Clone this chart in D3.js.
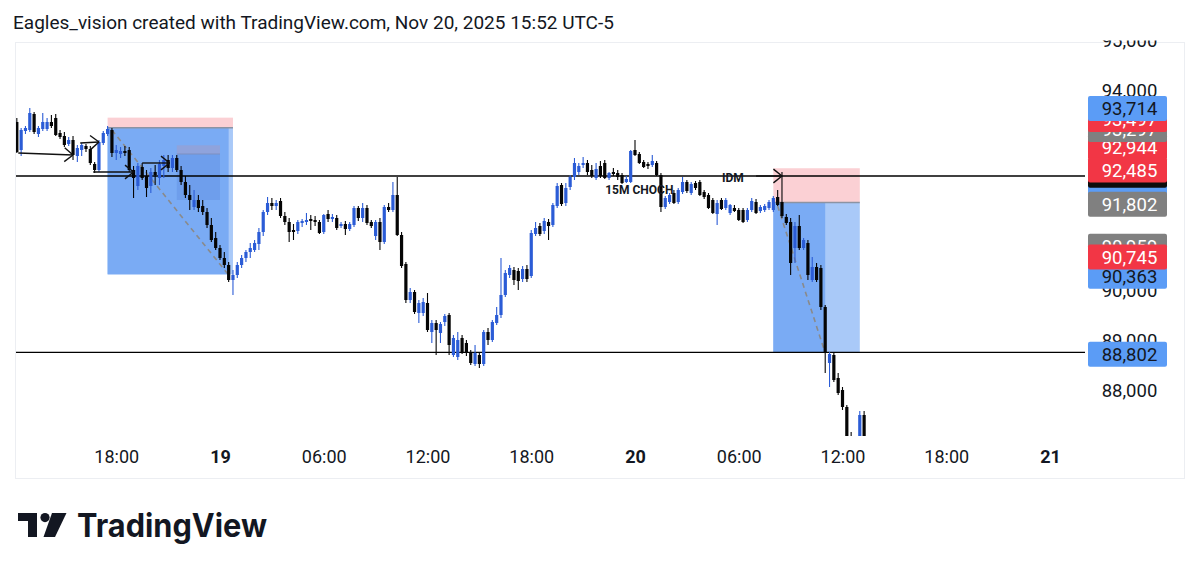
<!DOCTYPE html>
<html><head><meta charset="utf-8">
<script src="https://cdn.jsdelivr.net/npm/d3@7/dist/d3.min.js"></script>
<style>
html,body{margin:0;padding:0;background:#fff;}
svg{display:block;font-family:Roboto,"Noto Sans",sans-serif;}
</style></head><body>
<svg id="chart" width="1200" height="573"></svg>
<script>
// ---------- DATA (BTC 15m candles) ----------
const firstCandle = "2025-11-18T12:15:00Z";
const candleMinutes = 15;
const opens = [
93410,92850,93230,93250,93570,93170,93270,93270,93410,93490,
93190,93130,92970,93050,92730,92850,92930,92870,92570,92450,
92990,93170,93250,92790,92770,92830,92850,92450,92130,92510,
92330,92130,92410,92290,92530,92650,92490,92690,92450,92210,
91950,91710,91850,91730,91610,91350,91090,90890,90690,90550,
90250,90350,90550,90690,90810,90850,90970,91210,91610,91790,
91730,91830,91530,91410,91250,91230,91390,91410,91470,91450,
91410,91210,91570,91470,91490,91330,91370,91270,91350,91690,
91490,91690,91410,91130,91410,91010,91710,91650,91950,91150,
90570,89850,90010,89590,89590,89790,89210,89390,89190,89410,
89550,88750,88710,89090,88990,88810,88570,88750,88570,89210,
89050,89390,89550,89950,90350,90450,90430,90270,90470,90330,
91170,91330,91230,91410,91350,91730,92150,91790,92110,92310,
92410,92550,92590,92450,92290,92530,92590,92290,92410,92390,
92350,92210,92210,92850,92770,92610,92570,92550,92590,92350,
91710,91810,91990,91810,92010,92210,91990,92190,92210,92010,
91950,91850,91570,91850,91690,91590,91690,91650,91650,91450,
91650,91810,91630,91650,91690,91650,91910,91810,91510,91410,
90890,91330,90890,90990,90250,90510,90490,89710,88590,88750,
88290,88050,87710,87050,86850,86750,87550];
const highs = [
93490,93290,93330,93690,93610,93330,93590,93490,93550,93570,
93250,93210,93110,93130,92950,92990,92970,92930,92610,93050,
93230,93330,93290,92950,92910,92930,92910,92530,92590,92590,
92450,92490,92550,92650,92750,92750,92750,92750,92530,92330,
92150,92050,91950,91850,91690,91490,91210,90950,90810,90610,
90450,90610,90750,90850,90990,91050,91290,91650,91910,91890,
91850,91890,91610,91490,91370,91450,91470,91590,91550,91530,
91450,91570,91650,91570,91550,91410,91430,91410,91730,91730,
91790,91750,91450,91450,91490,91750,91790,92210,92310,91210,
90610,90090,90050,89850,89890,89990,89450,89450,89410,89570,
89590,89150,89210,89150,89050,88850,88950,88810,89250,89290,
89450,89710,90690,90450,90550,90510,90490,90530,90550,91250,
91410,91390,91490,91470,91790,92190,92190,92190,92350,92690,
92590,92710,92650,92550,92590,92630,92650,92410,92490,92450,
92390,92330,92850,93050,92810,92650,92610,92750,92630,92390,
91930,91990,92050,92090,92310,92250,92210,92230,92250,92050,
91990,91890,91850,91890,91890,91770,91750,91690,91690,91690,
91890,91870,91750,91770,91850,91930,92050,92410,91570,91490,
91410,91550,91090,91050,90710,90590,90550,89750,88810,88790,
88390,88110,87750,87210,87090,87630,87630];
const lows = [
92790,92730,93170,93210,93170,93110,93230,93230,93290,93130,
93070,92910,92930,92650,92610,92730,92810,92550,92390,92410,
92950,93130,92710,92650,92690,92730,92410,91890,92050,92250,
91910,91990,92150,92150,92290,92410,92410,92410,92150,91890,
91650,91650,91610,91550,91290,91010,90850,90650,90490,90210,
89950,90290,90490,90610,90690,90810,90850,91130,91550,91650,
91650,91490,91350,91010,91050,91170,91310,91350,91250,91330,
91170,91170,91410,91410,91250,91290,91150,91230,91310,91430,
91410,91350,91290,91050,90850,90970,91610,91610,91130,90490,
89790,89790,89570,89390,89530,89210,88990,88750,88990,89330,
88750,88710,88650,88770,88730,88550,88530,88490,88530,88950,
89010,89350,89490,89910,90290,90150,90050,90210,90210,90290,
91130,91130,91170,91050,91310,91690,91730,91730,92050,92250,
92350,92490,92350,92290,92250,92290,92270,92250,92330,92250,
92170,92190,92190,92730,92570,92490,92470,92510,92330,91610,
91670,91770,91770,91770,91970,91990,91950,92050,91930,91870,
91670,91570,91350,91650,91650,91550,91610,91430,91390,91410,
91610,91570,91590,91610,91650,91610,91730,91490,91350,90350,
90590,90850,90850,90250,90210,90210,89650,88390,88110,88210,
87950,87650,86950,86750,86650,86650,86850];
const closes = [
92810,93250,93290,93590,93210,93290,93410,93410,93330,93150,
93110,92950,93050,92750,92890,92950,92870,92590,92450,93010,
93190,93270,92790,92850,92830,92790,92450,92290,92530,92290,
92090,92410,92350,92570,92650,92490,92690,92450,92210,91950,
91850,91850,91690,91610,91350,91050,90890,90690,90550,90250,
90350,90550,90690,90810,90890,90990,91210,91610,91790,91730,
91790,91530,91410,91210,91210,91410,91430,91450,91430,91410,
91190,91550,91470,91510,91290,91370,91270,91370,91690,91490,
91690,91390,91330,91410,91010,91710,91650,91950,91150,90530,
89850,90010,89610,89790,89810,89250,89390,89250,89370,89530,
88950,89090,89050,88810,88790,88590,88790,88570,89210,89050,
89410,89550,89950,90390,90490,90250,90230,90470,90270,91190,
91290,91170,91430,91330,91750,92130,91770,92090,92310,92590,
92530,92590,92410,92330,92470,92330,92290,92390,92370,92310,
92190,92270,92830,92750,92590,92510,92530,92630,92350,91710,
91890,91950,91790,92050,92210,92030,92170,92090,91950,91910,
91690,91590,91790,91670,91850,91750,91630,91450,91410,91650,
91830,91590,91710,91730,91810,91890,91750,91530,91390,90590,
91330,90890,91050,90350,90510,90250,89710,88790,88770,88250,
87990,87710,87050,86850,86750,87550,87050];

const xTickTimes = ["2025-11-18T18:00:00Z","2025-11-19T00:00:00Z","2025-11-19T06:00:00Z","2025-11-19T12:00:00Z","2025-11-19T18:00:00Z","2025-11-20T00:00:00Z","2025-11-20T06:00:00Z","2025-11-20T12:00:00Z","2025-11-20T18:00:00Z","2025-11-21T00:00:00Z"];
const xTickLabels = ["18:00","19","06:00","12:00","18:00","20","06:00","12:00","18:00","21"];
const xTickBold = [false,true,false,false,false,true,false,false,false,true];
const yTicks = [95000,94000,93000,92000,91000,90000,89000,88000];
const horizontalLines = [92330, 88802];
// price tags in drawing order (bottom first); strips whose text is hidden have showText=false
const tagValues = [92944, 92200, 92380, 93297, 93497, 93714, 92485, 91802, 90959, 90363, 90745, 88802];
const tagKinds  = ["red","blue","black","gray","red","blue","red","gray","gray","blue","red","blue"];
const tagShowText = [true,false,false,true,true,true,true,true,true,true,true,true];
const positionStart  = ["2025-11-18T17:30:00Z","2025-11-20T08:00:00Z"];
const positionSplit  = ["2025-11-19T00:30:00Z","2025-11-20T11:00:00Z"];
const positionEnd    = ["2025-11-19T00:45:00Z","2025-11-20T13:00:00Z"];
const positionStop   = [93497, 92485];
const positionEntry  = [93297, 91802];
const positionTarget = [90363, 88802];
const innerBox = {start:"2025-11-18T21:30:00Z", end:"2025-11-19T00:00:00Z", top:92944, mid:92770, bottom:91850};
const dashedPaths = [
  [["2025-11-18T17:45:00Z",93250],["2025-11-19T00:30:00Z",90350]],
  [["2025-11-20T08:15:00Z",91730],["2025-11-20T11:00:00Z",88790]]
];
const arrows = [
  [["2025-11-18T12:20:00Z",92790],["2025-11-18T15:30:00Z",92750]],
  [["2025-11-18T15:55:00Z",92990],["2025-11-18T17:00:00Z",93010]],
  [["2025-11-18T16:40:00Z",92410],["2025-11-18T19:00:00Z",92410]],
  [["2025-11-18T19:30:00Z",92590],["2025-11-18T21:05:00Z",92590]],
  [["2025-11-20T07:00:00Z",92330],["2025-11-20T08:30:00Z",92330]]
];
const notes = [
  {text:"15M CHOCH", time:"2025-11-20T00:15:00Z", price:92050},
  {text:"IDM", time:"2025-11-20T05:40:00Z", price:92290}
];

// ---------- DRAWING ----------
const svg = d3.select("#chart");
const plot = {left:16, right:1085, top:42, bottom:436};
const x = d3.scaleUtc()
  .domain([new Date("2025-11-19T00:00:00Z"), new Date("2025-11-21T00:00:00Z")])
  .range([220, 1050]);
const y = d3.scaleLinear().domain([95010, 87130]).range([plot.top, plot.bottom]);
const T = s => new Date(s);
const t0 = new Date(firstCandle).getTime();
const candles = opens.map((o,i)=>({time:new Date(t0 + i*candleMinutes*60000), o, h:highs[i], l:lows[i], c:closes[i]}));

// title
svg.append("text").attr("x",13).attr("y",29).attr("font-size",19).attr("fill","#131722")
  .text("Eagles_vision created with TradingView.com, Nov 20, 2025 15:52 UTC-5");

// frame
svg.append("rect").attr("x",15.5).attr("y",42.5).attr("width",1169).attr("height",436)
  .attr("fill","none").attr("stroke","#eceef2").attr("stroke-width",1);

const defs = svg.append("defs");
defs.append("clipPath").attr("id","plotclip").append("rect")
  .attr("x",plot.left).attr("y",plot.top).attr("width",plot.right-plot.left).attr("height",plot.bottom-plot.top);
defs.append("clipPath").attr("id","axisclip").append("rect")
  .attr("x",1086).attr("y",40.5).attr("width",98).attr("height",397);

const g = svg.append("g").attr("clip-path","url(#plotclip)");

// positions
positionStart.forEach((s,i)=>{
  const x0 = x(T(s)), xs = x(T(positionSplit[i])), x1 = x(T(positionEnd[i]));
  g.append("rect").attr("x",x0).attr("width",x1-x0)
    .attr("y",y(positionStop[i])).attr("height",y(positionEntry[i])-y(positionStop[i]))
    .attr("fill","#fbd0d4");
  g.append("rect").attr("x",x0).attr("width",x1-x0)
    .attr("y",y(positionEntry[i])).attr("height",y(positionTarget[i])-y(positionEntry[i]))
    .attr("fill","#a9c9f8");
  g.append("rect").attr("x",x0).attr("width",xs-x0)
    .attr("y",y(positionEntry[i])).attr("height",y(positionTarget[i])-y(positionEntry[i]))
    .attr("fill","#7aabf4");
  g.append("line").attr("x1",x0).attr("x2",x1).attr("y1",y(positionEntry[i])).attr("y2",y(positionEntry[i]))
    .attr("stroke","#8c93a3").attr("stroke-width",1.5);
});
// inner box
{
  const x0 = x(T(innerBox.start)), x1 = x(T(innerBox.end));
  g.append("rect").attr("x",x0).attr("width",x1-x0).attr("y",y(innerBox.top))
    .attr("height",y(innerBox.mid)-y(innerBox.top)).attr("fill","#8fa3dc");
  g.append("rect").attr("x",x0).attr("width",x1-x0).attr("y",y(innerBox.mid))
    .attr("height",y(innerBox.bottom)-y(innerBox.mid)).attr("fill","#6e9eec");
  g.append("line").attr("x1",x0).attr("x2",x1).attr("y1",y(innerBox.mid)).attr("y2",y(innerBox.mid))
    .attr("stroke","#7d8fc0").attr("stroke-width",1);
}
// dashed
dashedPaths.forEach(p=>{
  g.append("line").attr("x1",x(T(p[0][0]))).attr("y1",y(p[0][1]))
    .attr("x2",x(T(p[1][0]))).attr("y2",y(p[1][1]))
    .attr("stroke","#8a8a8a").attr("stroke-width",1.6).attr("stroke-dasharray","5,4");
});
// horizontal lines
horizontalLines.forEach(v=>{
  g.append("line").attr("x1",plot.left).attr("x2",plot.right).attr("y1",y(v)).attr("y2",y(v))
    .attr("stroke","#000").attr("stroke-width",1.3);
});
// candles
const cg = g.append("g");
candles.forEach(d=>{
  const cx = x(d.time);
  const up = d.c >= d.o;
  const col = up ? "#2b5cd6" : "#050505";
  cg.append("line").attr("x1",cx).attr("x2",cx).attr("y1",y(d.h)).attr("y2",y(d.l))
    .attr("stroke",col).attr("stroke-width",1.1);
  const yt = Math.min(y(d.o),y(d.c)), hh = Math.max(1, Math.abs(y(d.o)-y(d.c)));
  cg.append("rect").attr("x",cx-1.6).attr("width",3.2).attr("y",yt).attr("height",hh).attr("fill",col);
});
// arrows
arrows.forEach(a=>{
  const x1=x(T(a[0][0])), y1=y(a[0][1]), x2=x(T(a[1][0])), y2=y(a[1][1]);
  const ang = Math.atan2(y2-y1, x2-x1), L = 11, spread = 0.68;
  g.append("line").attr("x1",x1).attr("y1",y1).attr("x2",x2).attr("y2",y2)
    .attr("stroke","#111").attr("stroke-width",1.4);
  [1,-1].forEach(sg=>{
    g.append("line").attr("x1",x2).attr("y1",y2)
      .attr("x2",x2 - L*Math.cos(ang+sg*spread)).attr("y2",y2 - L*Math.sin(ang+sg*spread))
      .attr("stroke","#111").attr("stroke-width",1.4);
  });
});
// notes
notes.forEach(n=>{
  g.append("text").attr("x",x(T(n.time))).attr("y",y(n.price)).attr("dy","0.35em")
    .attr("text-anchor","middle").attr("font-size",12).attr("font-weight",700)
    .attr("fill","#131722").text(n.text);
});

// y axis
const ya = svg.append("g").attr("clip-path","url(#axisclip)");
const yAxisG = ya.append("g").attr("transform","translate(1129.5,-1.5)")
  .call(d3.axisRight(y).tickValues(yTicks).tickFormat(d3.format(",")).tickSize(0).tickPadding(0));
yAxisG.select(".domain").remove();
yAxisG.selectAll("text").attr("x",0).attr("dy","0.32em").attr("text-anchor","middle")
  .attr("font-size",18.5).attr("fill","#131722").style("font-family","Roboto");
// price tags
const tagFill = {red:"#f23645", blue:"#5b9cf6", gray:"#808080", black:"#0c0c0c"};
const tagText = {red:"#ffffff", blue:"#131722", gray:"#ffffff", black:"#ffffff"};
tagValues.forEach((v,i)=>{
  const cy = y(v) + 1.8, k = tagKinds[i];
  ya.append("rect").attr("x",1088).attr("y",cy-12.5).attr("width",79).attr("height",25)
    .attr("rx",2).attr("fill",tagFill[k]);
  if (tagShowText[i]) {
    ya.append("text").attr("x",1129.5).attr("y",cy).attr("dy","0.35em").attr("text-anchor","middle")
      .attr("font-size",18.5).attr("fill",tagText[k]).text(d3.format(",")(v));
  }
});

// x axis
const xAxisG = svg.append("g").attr("transform","translate(0,457)")
  .call(d3.axisBottom(x).tickValues(xTickTimes.map(T)).tickFormat((d,i)=>xTickLabels[i]).tickSize(0).tickPadding(0));
xAxisG.select(".domain").remove();
xAxisG.selectAll("text").attr("y",0).attr("dy","0.35em").attr("font-size",18)
  .attr("fill","#131722").style("font-family","Roboto")
  .attr("font-weight",(d,i)=>xTickBold[i]?700:400);

// TradingView logo
const logo = svg.append("g").attr("fill","#131722");
logo.append("path").attr("d","M18,513 H37 V537 H28 V521 H18 Z");
logo.append("circle").attr("cx",45).attr("cy",517.6).attr("r",4.6);
logo.append("path").attr("d","M52,513 H66.5 L55,537 H43.5 Z");
logo.append("text").attr("x",77).attr("y",537).attr("font-size",32).attr("font-weight",700)
  .style("font-family","Inter, 'Noto Sans', sans-serif").attr("textLength",190).attr("lengthAdjust","spacingAndGlyphs")
  .text("TradingView");
</script>
</body></html>
